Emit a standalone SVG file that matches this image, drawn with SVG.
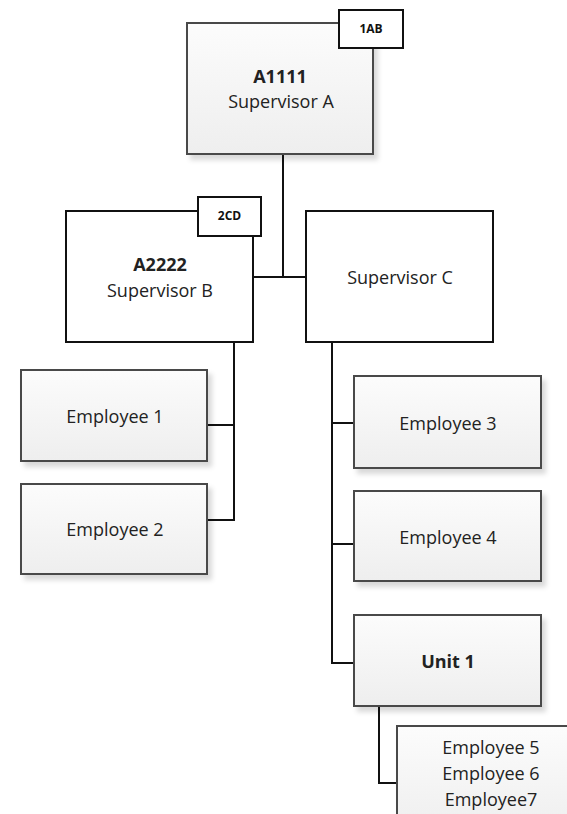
<svg xmlns="http://www.w3.org/2000/svg" width="567" height="814" viewBox="0 0 567 814">
<style>
  .g { fill: url(#grad); stroke: #4a4a4a; stroke-width: 2; filter: url(#sh); }
  .w { fill: #ffffff; stroke: #111111; stroke-width: 2; }
  .badge { fill: #ffffff; stroke: #111111; stroke-width: 2; }
  .t { font-family: "Open Sans", "Liberation Sans", sans-serif; font-size: 18px; fill: #222222; text-anchor: middle; }
  .b { font-weight: bold; }
  .s { font-family: "Open Sans", "Liberation Sans", sans-serif; font-size: 12px; font-weight: bold; fill: #111111; text-anchor: middle; }
  .c { fill: none; stroke: #111111; stroke-width: 2; }
</style>
<defs>
  <linearGradient id="grad" x1="0" y1="0" x2="0" y2="1">
    <stop offset="0" stop-color="#fcfcfc"/>
    <stop offset="1" stop-color="#eeeeee"/>
  </linearGradient>
  <filter id="sh" x="-10%" y="-10%" width="130%" height="130%">
    <feDropShadow dx="4" dy="5" stdDeviation="2.5" flood-color="#000000" flood-opacity="0.15"/>
  </filter>
</defs>
<rect width="567" height="814" fill="#ffffff"/>
<g id="connectors">
  <path class="c" d="M283 154 V277"/>
  <path class="c" d="M253 277 H306"/>
  <path class="c" d="M234 342 V520 H207"/>
  <path class="c" d="M234 425 H207"/>
  <path class="c" d="M332 342 V663 H354"/>
  <path class="c" d="M332 423 H354"/>
  <path class="c" d="M332 544 H354"/>
  <path class="c" d="M379 706 V783 H397"/>
</g>
<g id="supA">
  <rect class="g" x="187" y="23" width="186" height="131"/>
  <text class="t b" x="280" y="83">A1111</text>
  <text class="t" x="281" y="108">Supervisor A</text>
</g>
<g id="badge1AB">
  <rect class="badge" x="339" y="10" width="64" height="38"/>
  <text class="s" x="371" y="33">1AB</text>
</g>
<g id="supB">
  <rect class="w" x="66" y="211" width="187" height="131"/>
  <text class="t b" x="160" y="271">A2222</text>
  <text class="t" x="160" y="297">Supervisor B</text>
</g>
<g id="badge2CD">
  <rect class="badge" x="198" y="197" width="63" height="39"/>
  <text class="s" x="229.5" y="220">2CD</text>
</g>
<g id="supC">
  <rect class="w" x="306" y="211" width="187" height="131"/>
  <text class="t" x="400" y="284">Supervisor C</text>
</g>
<g id="emp1">
  <rect class="g" x="21" y="370" width="186" height="91"/>
  <text class="t" x="115" y="423">Employee 1</text>
</g>
<g id="emp2">
  <rect class="g" x="21" y="484" width="186" height="90"/>
  <text class="t" x="115" y="536">Employee 2</text>
</g>
<g id="emp3">
  <rect class="g" x="354" y="376" width="187" height="92"/>
  <text class="t" x="448" y="430">Employee 3</text>
</g>
<g id="emp4">
  <rect class="g" x="354" y="491" width="187" height="90"/>
  <text class="t" x="448" y="544">Employee 4</text>
</g>
<g id="unit1">
  <rect class="g" x="354" y="615" width="187" height="91"/>
  <text class="t b" x="448" y="668">Unit 1</text>
</g>
<g id="emp567">
  <rect class="g" x="397" y="726" width="190" height="110"/>
  <text class="t" x="491" y="754">Employee 5</text>
  <text class="t" x="491" y="780">Employee 6</text>
  <text class="t" x="491" y="806">Employee7</text>
</g>
</svg>
